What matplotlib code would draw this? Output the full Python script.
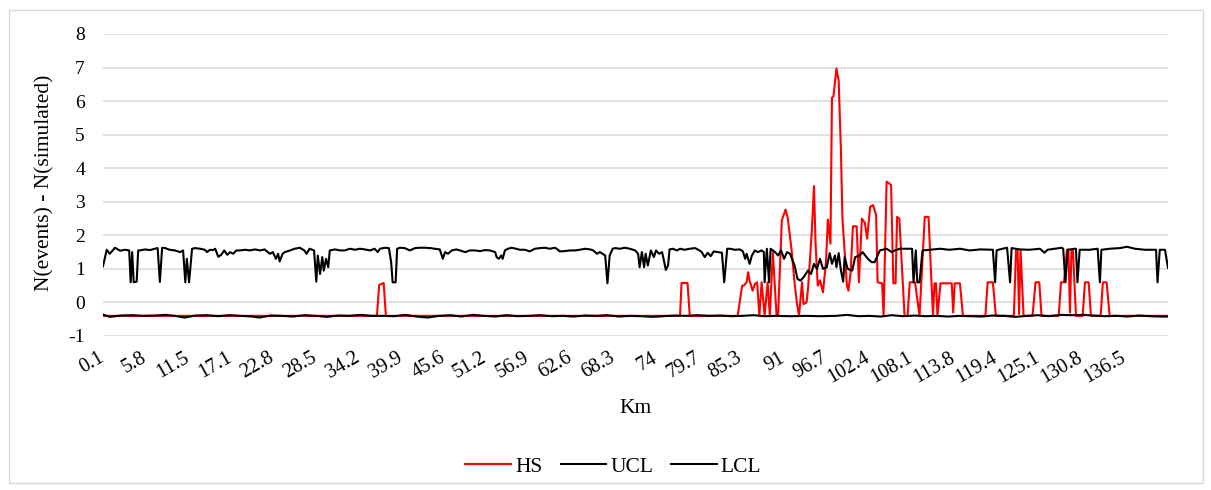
import matplotlib.pyplot as plt
from matplotlib.patches import Rectangle

plt.rcParams['font.family'] = ['Liberation Serif', 'DejaVu Serif']
plt.rcParams['axes.unicode_minus'] = False

# category labels shown on the x axis (km)
tick_km = [0.1, 5.8, 11.5, 17.1, 22.8, 28.5, 34.2, 39.9, 45.6, 51.2, 56.9,
           62.6, 68.3, 74, 79.7, 85.3, 91, 96.7, 102.4, 108.1, 113.8, 119.4,
           125.1, 130.8, 136.5]
tick_labels = ["0.1", "5.8", "11.5", "17.1", "22.8", "28.5", "34.2", "39.9",
               "45.6", "51.2", "56.9", "62.6", "68.3", "74", "79.7", "85.3",
               "91", "96.7", "102.4", "108.1", "113.8", "119.4", "125.1",
               "130.8", "136.5"]

# HS series
hs_km = [0.1, 36.7, 37.0, 37.6, 37.9, 77.2, 77.4, 78.2, 78.5,
         84.9, 85.5, 85.7, 86.1, 86.3, 86.5, 86.9, 87.2, 87.5, 87.8, 88.1,
         88.5, 88.9, 89.2, 89.6, 90.1, 90.3, 90.8, 91.3, 91.6, 92.1, 92.5,
         92.8, 93.1, 93.5, 93.7, 94.1, 94.3, 94.8, 95.1, 95.3, 95.6, 95.9,
         96.3, 96.7, 96.95, 97.3, 97.5, 97.7, 98.1, 98.4, 98.7, 98.9, 99.2,
         99.5, 99.7, 100.0, 100.3, 100.8, 101.1, 101.5, 101.9, 102.2, 102.6,
         103.0, 103.4, 103.6, 104.2, 104.4, 104.8, 105.4, 105.7, 106.0,
         106.2, 106.5, 107.2, 107.6, 107.9, 108.6, 109.2, 109.9, 110.4,
         111.0, 111.2, 111.4, 111.6, 112.0, 113.5, 113.7, 113.9, 114.6,
         115.0, 118.0, 118.3, 119.0, 119.4, 121.8, 122.1, 122.3, 122.5,
         122.7, 123.1, 124.3, 124.7, 125.2, 125.5, 127.8, 128.1, 128.5,
         128.9, 129.1, 129.3, 129.5, 129.7, 130.1, 131.0, 131.3, 131.8,
         132.1, 133.4, 133.7, 134.2, 134.6, 142.4]
hs_val = [-0.4, -0.4, 0.52, 0.58, -0.4, -0.4, 0.58, 0.58, -0.4,
          -0.4, 0.5, 0.5, 0.6, 0.9, 0.65, 0.35, 0.55, 0.6, -0.4, 0.6,
          -0.4, 0.6, -0.4, 1.5, -0.4, -0.4, 2.45, 2.77, 2.5, 1.57, 0.6,
          0.0, -0.4, 0.6, -0.05, 0.0, 0.4, 2.1, 3.47, 1.8, 0.5, 0.66,
          0.3, 1.2, 2.47, 1.75, 6.1, 6.15, 6.97, 6.6, 4.5, 2.5, 1.5,
          0.5, 0.35, 0.9, 2.27, 2.27, 0.6, 2.5, 2.37, 1.9, 2.85,
          2.9, 2.6, 0.6, 0.57, -0.4, 3.6, 3.5, 0.57, 0.57,
          2.55, 2.5, -0.4, -0.4, 0.6, 0.6, -0.4, 2.55, 2.55,
          -0.4, 0.57, 0.57, -0.4, 0.57, 0.57, -0.3, 0.57, 0.57,
          -0.4, -0.4, 0.6, 0.6, -0.4, -0.4, 1.57, 1.57, -0.35,
          1.57, -0.4, -0.4, 0.6, 0.6, -0.4, -0.4, 0.6, 0.6,
          1.57, 1.57, -0.3, 1.57, 1.57, -0.4, -0.4, 0.6, 0.6,
          -0.4, -0.4, 0.6, 0.6, -0.4, -0.4]

# UCL series
ucl_km = [0.1, 0.6, 1.0, 1.7, 2.4, 3.0, 3.6, 3.8, 4.0, 4.2, 4.6, 4.8, 5.0,
          5.7, 6.4, 7.0, 7.4, 7.7, 8.0, 8.4, 9.0, 9.7, 10.4, 10.8, 11.1,
          11.3, 11.6, 12.0, 12.4, 13.1, 13.7, 14.0, 14.4, 14.8, 15.1, 15.5,
          15.9, 16.3, 16.7, 17.1, 17.5, 17.9, 18.4, 19.1, 19.7, 20.4, 21.1,
          21.7, 22.4, 22.8, 23.2, 23.5, 23.7, 24.1, 24.4, 25.1, 25.7, 26.4,
          27.0, 27.3, 27.7, 28.3, 28.6, 28.8, 29.1, 29.4, 29.6, 29.9, 30.2,
          30.4, 31.1, 31.8, 32.4, 33.1, 33.8, 34.4, 35.1, 35.8, 36.4, 36.8,
          37.1, 37.8, 38.3, 38.6, 38.8, 39.2, 39.4, 39.8, 40.4, 41.1, 41.8,
          42.4, 43.1, 43.8, 44.5, 45.1, 45.5, 45.8, 46.2, 46.7, 47.3, 47.8,
          48.5, 49.1, 49.8, 50.5, 51.1, 51.8, 52.5, 52.7, 53.0, 53.3, 53.5,
          53.8, 54.2, 54.7, 55.3, 55.8, 56.5, 57.1, 57.8, 58.5, 59.1, 59.8,
          60.5, 60.9, 61.1, 61.8, 62.5, 63.2, 63.8, 64.5, 65.2, 65.6, 66.1,
          66.5, 67.2, 67.5, 67.8, 68.2, 68.5, 69.2, 69.8, 70.5, 71.2, 71.6,
          71.8, 72.1, 72.4, 72.6, 72.9, 73.3, 73.7, 74.0, 74.4, 74.8, 75.0,
          75.3, 75.6, 75.8, 76.2, 76.8, 77.2, 77.8, 78.5, 79.2, 79.8, 80.1,
          80.5, 80.9, 81.3, 81.7, 82.3, 82.8, 83.1, 83.5, 83.9, 84.5, 85.2,
          85.6, 85.9, 86.1, 86.5, 86.8, 87.2, 87.6, 88.1, 88.4, 88.5, 88.8,
          89.1, 89.3, 89.9, 90.3, 90.7, 91.1, 91.5, 91.9, 92.5, 92.9, 93.3,
          93.7, 94.3, 94.7, 95.1, 95.5, 95.9, 96.3, 96.8, 97.2, 97.5, 97.9,
          98.1, 98.4, 98.7, 99.0, 99.2, 99.6, 100.2, 100.6, 101.2, 101.6,
          102.3, 102.8, 103.2, 103.9, 104.8, 105.5, 105.9, 106.6, 107.2,
          108.2, 108.4, 108.7, 108.9, 109.2, 109.6, 110.6, 111.9, 113.2,
          114.6, 115.9, 117.3, 119.0, 119.3, 119.5, 119.9, 120.9, 121.3,
          121.5, 122.6, 123.9, 125.3, 125.9, 126.3, 127.3, 128.2, 128.4,
          128.7, 129.0, 129.9, 130.1, 130.3, 130.6, 131.9, 133.0, 133.3,
          133.5, 134.6, 136.0, 136.9, 138.0, 139.3, 140.8, 141.0, 141.3,
          142.0, 142.4]
ucl_val = [1.08, 1.57, 1.45, 1.63, 1.54, 1.57, 1.55, 0.6, 1.5, 0.6, 0.62,
           1.55, 1.55, 1.58, 1.56, 1.6, 1.62, 0.61, 1.63, 1.62, 1.57, 1.55,
           1.5, 1.55, 0.6, 1.3, 0.6, 1.6, 1.62, 1.6, 1.57, 1.5, 1.57, 1.56,
           1.6, 1.36, 1.42, 1.55, 1.42, 1.5, 1.45, 1.55, 1.55, 1.57, 1.55,
           1.58, 1.55, 1.58, 1.45, 1.5, 1.3, 1.45, 1.22, 1.45, 1.5, 1.55,
           1.6, 1.63, 1.55, 1.45, 1.6, 1.55, 0.62, 1.4, 0.85, 1.35, 0.95,
           1.3, 1.05, 1.55, 1.58, 1.55, 1.55, 1.6, 1.57, 1.6, 1.58, 1.55,
           1.6, 1.5, 1.6, 1.63, 1.62, 1.2, 0.6, 0.6, 1.6, 1.63, 1.62, 1.55,
           1.62, 1.63, 1.63, 1.62, 1.6, 1.58, 1.3, 1.5, 1.45, 1.55, 1.58,
           1.55, 1.5, 1.55, 1.55, 1.53, 1.56, 1.55, 1.5, 1.35, 1.3, 1.4,
           1.3, 1.55, 1.6, 1.63, 1.6, 1.57, 1.57, 1.52, 1.6, 1.62, 1.63,
           1.6, 1.63, 1.57, 1.52, 1.53, 1.55, 1.55, 1.57, 1.6, 1.58, 1.55,
           1.45, 1.5, 1.4, 0.57, 1.4, 1.6, 1.62, 1.6, 1.63, 1.6, 1.55, 1.45,
           1.05, 1.5, 1.05, 1.45, 1.1, 1.55, 1.35, 1.55, 1.45, 1.5, 1.3,
           0.97, 1.1, 1.58, 1.6, 1.55, 1.6, 1.57, 1.6, 1.62, 1.55, 1.5,
           1.35, 1.48, 1.38, 1.52, 1.5, 1.48, 0.6, 1.6, 1.6, 1.57, 1.58,
           1.52, 1.3, 1.45, 1.15, 1.4, 1.55, 1.5, 1.55, 1.5, 0.6, 1.6,
           0.6, 1.6, 1.5, 1.4, 1.55, 1.3, 1.5, 1.45, 1.1, 0.7, 0.65,
           0.75, 0.95, 0.85, 1.15, 1.0, 1.3, 1.0, 1.05, 1.47, 1.15, 1.4,
           1.05, 1.47, 0.95, 0.62, 1.35, 1.0, 0.95, 1.35, 1.4, 1.5,
           1.3, 1.2, 1.2, 1.55, 1.6, 1.5, 1.55, 1.6, 1.6,
           1.6, 0.6, 1.55, 0.6, 0.6, 1.55, 1.57, 1.6, 1.57,
           1.6, 1.55, 1.58, 1.57, 0.6, 1.55, 1.58, 1.63, 0.6,
           1.62, 1.58, 1.57, 1.6, 1.48, 1.57, 1.6, 1.63, 1.6,
           0.6, 1.57, 1.6, 1.6, 0.6, 1.57, 1.57, 1.6, 0.6,
           1.57, 1.6, 1.62, 1.66, 1.6, 1.57, 1.57, 0.6, 1.57,
           1.57, 1.03]

# LCL series
lcl_km = [0.1, 1.0, 2.5, 4.0, 5.5, 7.0, 8.5, 10.0, 11.0, 12.5, 14.0, 15.5,
          17.0, 18.5, 20.0, 21.0, 22.5, 24.0, 25.5, 27.0, 28.5, 30.0, 31.5,
          33.0, 34.5, 36.0, 37.5, 39.0, 40.5, 42.0, 43.5, 45.0, 46.5, 48.0,
          49.5, 51.0, 52.5, 54.0, 55.5, 57.0, 58.5, 60.0, 61.5, 63.0, 64.5,
          66.0, 67.5, 69.0, 70.5, 72.0, 73.5, 75.0, 76.5, 78.0, 79.5, 81.0,
          82.5, 84.0, 85.5, 87.0, 88.5, 90.0, 92.0, 94.0, 96.0, 98.0, 99.5,
          101.0, 102.5, 104.0, 105.5, 107.0, 108.5, 110.0, 111.5, 113.0,
          114.5, 116.0, 117.5, 119.0, 120.5, 122.0, 123.5, 125.0, 126.5,
          128.0, 129.5, 131.0, 132.5, 134.0, 135.5, 137.0, 138.5, 140.0,
          141.5, 142.4]
lcl_val = [-0.36, -0.43, -0.39, -0.38, -0.4, -0.39, -0.37, -0.41, -0.45,
           -0.39, -0.38, -0.41, -0.38, -0.4, -0.42, -0.45, -0.39, -0.4,
           -0.42, -0.38, -0.4, -0.43, -0.39, -0.4, -0.37, -0.4, -0.4, -0.41,
           -0.37, -0.42, -0.45, -0.4, -0.38, -0.42, -0.37, -0.4, -0.42,
           -0.38, -0.41, -0.4, -0.38, -0.41, -0.4, -0.42, -0.39, -0.4,
           -0.38, -0.42, -0.4, -0.41, -0.43, -0.41, -0.39, -0.4, -0.38,
           -0.4, -0.39, -0.41, -0.4, -0.38, -0.41, -0.4, -0.41, -0.4, -0.41,
           -0.4, -0.37, -0.41, -0.4, -0.42, -0.38, -0.41, -0.39, -0.41,
           -0.4, -0.42, -0.4, -0.41, -0.42, -0.39, -0.4, -0.43, -0.4, -0.38,
           -0.41, -0.37, -0.38, -0.37, -0.39, -0.41, -0.4, -0.42, -0.39,
           -0.41, -0.42, -0.42]

W, H = 1211, 490
fig = plt.figure(figsize=(W / 100, H / 100), dpi=100)
fig.patches.append(Rectangle((9 / W, 1 - 483 / H), 1194 / W, 473 / H,
                             transform=fig.transFigure, fill=False,
                             edgecolor="#d9d9d9", lw=1))

ax = fig.add_axes([103 / W, 1 - 336 / H, 1065 / W, 302 / H])
ax.plot(hs_km, hs_val, color="#ff0000", lw=1.5, label="HS")
ax.plot(ucl_km, ucl_val, color="black", lw=1.5, label="UCL")
ax.plot(lcl_km, lcl_val, color="black", lw=1.5, label="LCL")

ax.set_xlim(0.1, 142.4)
ax.set_ylim(-1, 8)
ax.set_yticks(range(-1, 9))
ax.set_axisbelow(True)
ax.grid(axis="y", color="#d9d9d9", lw=1.1)
for s in ax.spines.values():
    s.set_visible(False)
ax.tick_params(axis="y", length=0, labelsize=14, pad=13)
ax.tick_params(axis="x", length=0, labelsize=14.5, pad=15)
ax.set_xticks(tick_km)
ax.set_xticklabels(tick_labels, rotation=30, ha="right", va="center",
                   rotation_mode="anchor")

fig.text(636 / W, 1 - 408 / H, "Km", ha="center", va="center", fontsize=15.5)
fig.text(45 / W, 1 - 183 / H, "N(events) - N(simulated)", ha="center",
         va="center", rotation=90, fontsize=15.5)

fig.legend(loc="center", bbox_to_anchor=(613.5 / W, 1 - 466.7 / H), ncol=3,
           frameon=False, fontsize=15.5, handlelength=2.1, handletextpad=0.2,
           columnspacing=0.85)

fig.savefig("out.png", dpi=100)
